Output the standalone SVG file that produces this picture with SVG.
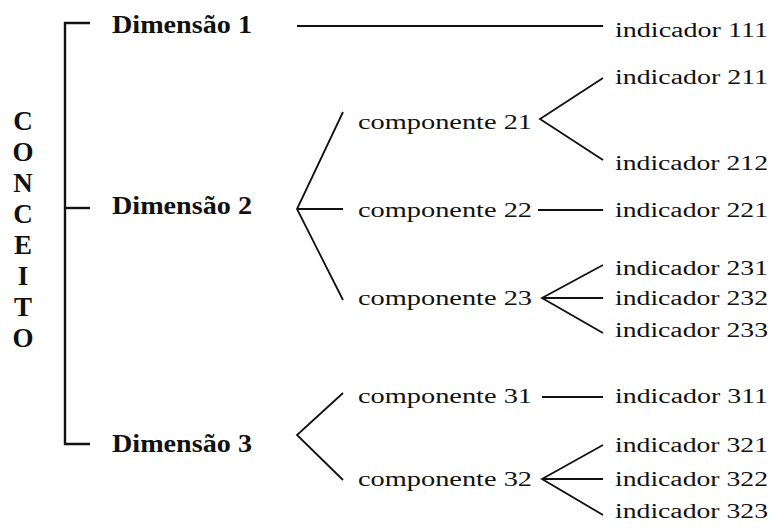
<svg xmlns="http://www.w3.org/2000/svg" width="779" height="528" viewBox="0 0 779 528">
<style>
.bg{fill:#ffffff}
.t{font-family:"Liberation Serif","Times New Roman",serif;fill:#111;}
.reg{font-size:20.5px;}
.dim{font-size:25px;font-weight:bold;}
.let{font-size:27px;font-weight:bold;text-anchor:middle;}
.ln{fill:none;stroke:#111;stroke-width:1.8;stroke-linecap:butt;stroke-linejoin:miter;}
.br{fill:none;stroke:#111;stroke-width:2.4;}
</style>
<rect class="bg" x="0" y="0" width="779" height="528"/>
<g id="connectors">
  <path class="br" d="M90,23 H65 V444 H90"/>
  <path class="br" d="M65,208 H90"/>
  <path class="ln" d="M297,26 H603"/>
  <path class="ln" d="M343,112 L297,209 L343,300 M297,209 H343"/>
  <path class="ln" d="M343,393 L297,435 L343,480"/>
  <path class="ln" d="M603,78 L540,119 L603,160"/>
  <path class="ln" d="M538,210 H603"/>
  <path class="ln" d="M603,265 L542,298 L603,333 M542,298 H603"/>
  <path class="ln" d="M542,397 H603"/>
  <path class="ln" d="M603,445 L542,479 L603,515 M542,479 H603"/>
</g>
<g id="conceito">
  <text class="t let" x="23" y="130">C</text>
  <text class="t let" x="23" y="161">O</text>
  <text class="t let" x="23" y="192">N</text>
  <text class="t let" x="23" y="223">C</text>
  <text class="t let" x="23" y="254">E</text>
  <text class="t let" x="23" y="285">I</text>
  <text class="t let" x="23" y="316">T</text>
  <text class="t let" x="23" y="347">O</text>
</g>
<g id="dim1"><text class="t dim" x="112" y="33" textLength="140" lengthAdjust="spacingAndGlyphs">Dimensão 1</text></g>
<g id="dim2"><text class="t dim" x="112" y="214" textLength="140" lengthAdjust="spacingAndGlyphs">Dimensão 2</text></g>
<g id="dim3"><text class="t dim" x="112" y="452" textLength="140" lengthAdjust="spacingAndGlyphs">Dimensão 3</text></g>
<g id="comp21"><text class="t reg" x="358" y="129" textLength="174" lengthAdjust="spacingAndGlyphs">componente 21</text></g>
<g id="comp22"><text class="t reg" x="358" y="217" textLength="174" lengthAdjust="spacingAndGlyphs">componente 22</text></g>
<g id="comp23"><text class="t reg" x="358" y="305" textLength="174" lengthAdjust="spacingAndGlyphs">componente 23</text></g>
<g id="comp31"><text class="t reg" x="358" y="403" textLength="174" lengthAdjust="spacingAndGlyphs">componente 31</text></g>
<g id="comp32"><text class="t reg" x="358" y="486" textLength="174" lengthAdjust="spacingAndGlyphs">componente 32</text></g>
<g id="ind111"><text class="t reg" x="615" y="37" textLength="153" lengthAdjust="spacingAndGlyphs">indicador 111</text></g>
<g id="ind211"><text class="t reg" x="615" y="84" textLength="153" lengthAdjust="spacingAndGlyphs">indicador 211</text></g>
<g id="ind212"><text class="t reg" x="615" y="170" textLength="153" lengthAdjust="spacingAndGlyphs">indicador 212</text></g>
<g id="ind221"><text class="t reg" x="615" y="217" textLength="153" lengthAdjust="spacingAndGlyphs">indicador 221</text></g>
<g id="ind231"><text class="t reg" x="615" y="275" textLength="153" lengthAdjust="spacingAndGlyphs">indicador 231</text></g>
<g id="ind232"><text class="t reg" x="615" y="305" textLength="153" lengthAdjust="spacingAndGlyphs">indicador 232</text></g>
<g id="ind233"><text class="t reg" x="615" y="337" textLength="153" lengthAdjust="spacingAndGlyphs">indicador 233</text></g>
<g id="ind311"><text class="t reg" x="615" y="403" textLength="153" lengthAdjust="spacingAndGlyphs">indicador 311</text></g>
<g id="ind321"><text class="t reg" x="615" y="452" textLength="153" lengthAdjust="spacingAndGlyphs">indicador 321</text></g>
<g id="ind322"><text class="t reg" x="615" y="486" textLength="153" lengthAdjust="spacingAndGlyphs">indicador 322</text></g>
<g id="ind323"><text class="t reg" x="615" y="518" textLength="153" lengthAdjust="spacingAndGlyphs">indicador 323</text></g>
</svg>
